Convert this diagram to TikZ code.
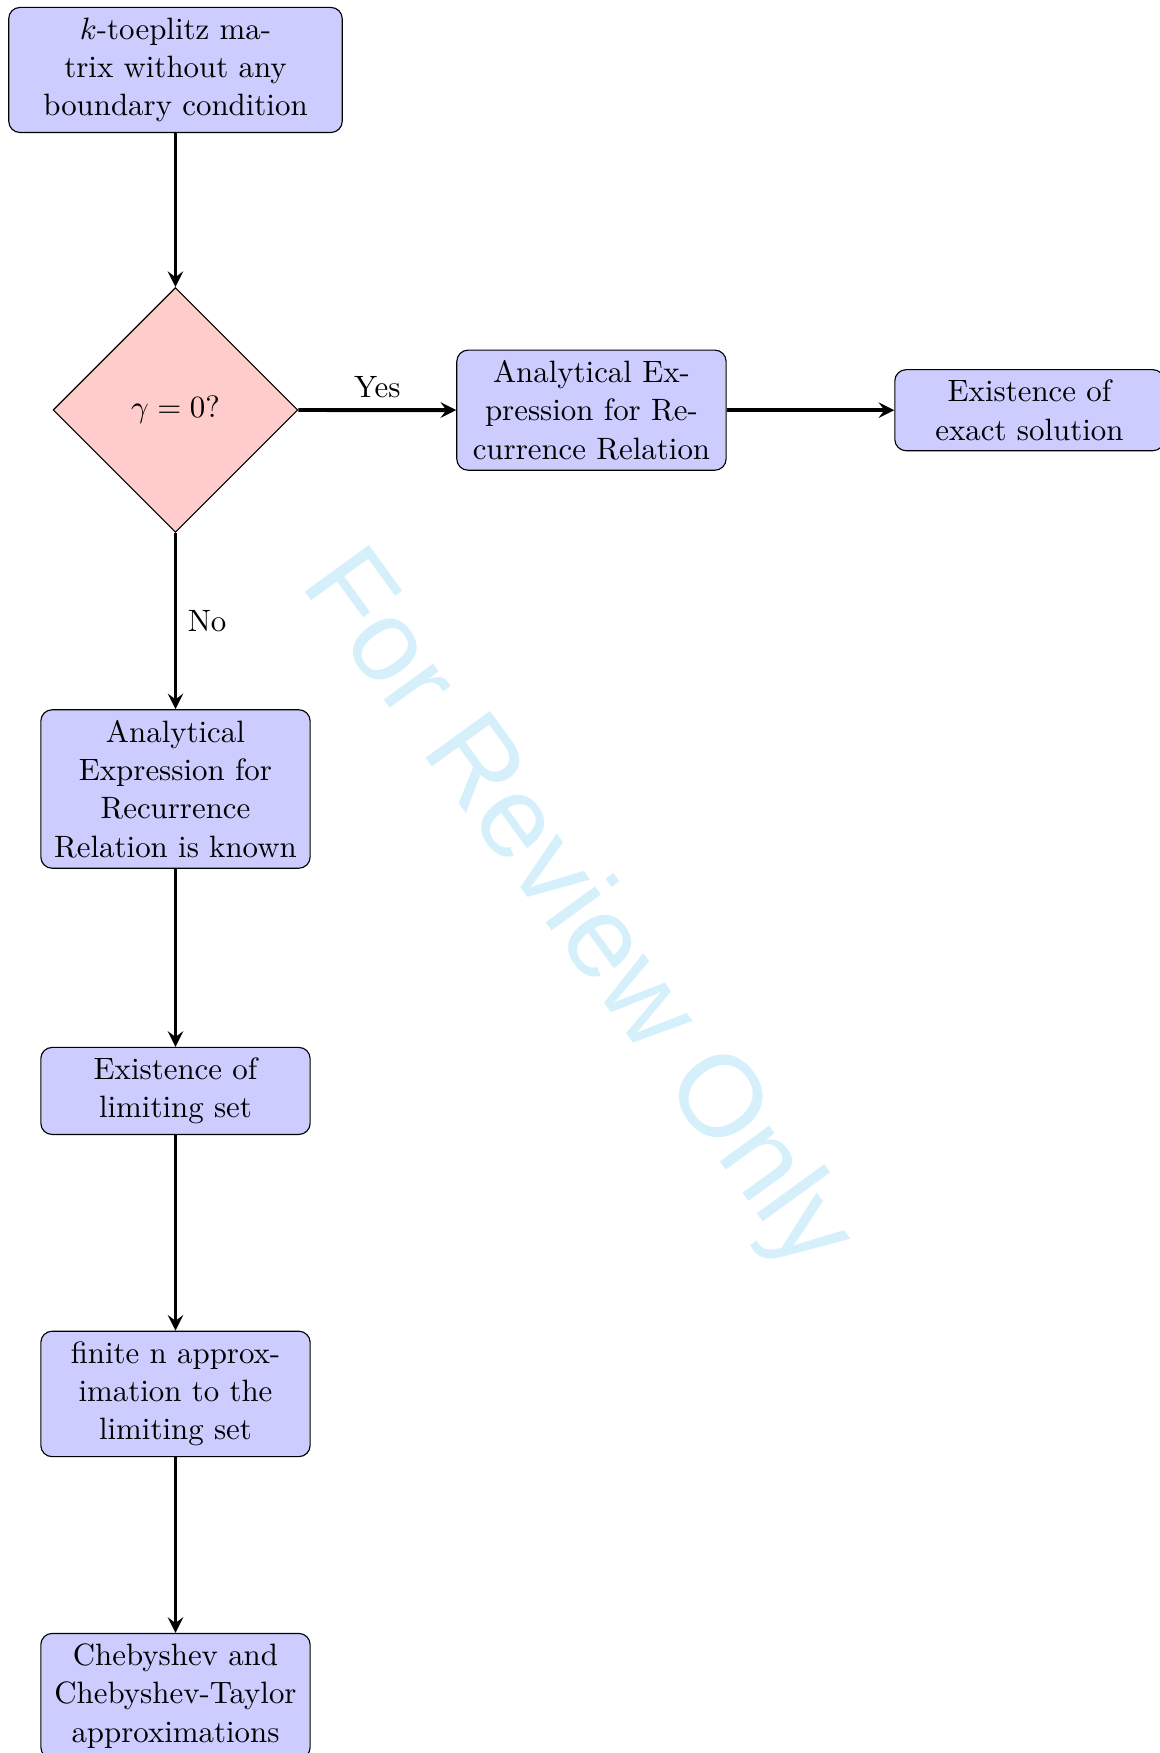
\documentclass[tikz,border=0pt,11pt]{standalone}
\usepackage{amsmath,amssymb}
\usepackage{fontspec}
\newfontfamily\wmfont{Liberation Sans}
\usetikzlibrary{shapes.geometric}
\definecolor{wmcyan}{RGB}{213,240,251}

\begin{document}
\begin{tikzpicture}[
		procbox/.style={rectangle, rounded corners, minimum width=3cm, minimum height=1cm, text centered, text width=3.1cm, draw=black, fill=blue!20},
		decbox/.style={diamond, minimum width=3.05cm, minimum height=3.05cm, text centered, draw=black, fill=red!20},
		flowarrow/.style={line width=1.4pt,-stealth}]
		\useasboundingbox (-2.187,0.872) rectangle (12.257,-20.975);% Fixes the page
		\node[rotate=-54, anchor=base west, inner sep=0pt, text=wmcyan, font=\wmfont\fontsize{41}{41}\selectfont] (Watermark) at (1.544,-6.403) {For Review Only};% Watermark

		\node[procbox, text width=3.9cm] (Matrix)       at (0,0)         {$k$-toeplitz ma-\\trix without any\\boundary condition};
		\node[decbox]                    (GammaTest)    at (0,-4.237)    {$\gamma=0$?};
		\node[procbox]                   (ExprRec)      at (5.184,-4.24) {Analytical Ex-\\pression for Re-\\currence Relation};
		\node[procbox]                   (ExactSol)     at (10.643,-4.24){Existence of\\exact solution};
		\node[procbox]                   (ExprKnown)    at (0,-8.961)    {Analytical\\Expression for\\Recurrence\\Relation is known};
		\node[procbox]                   (LimitSet)     at (0,-12.724)   {Existence of\\limiting set};
		\node[procbox]                   (FiniteApprox) at (0,-16.5)     {finite n approx-\\imation to the\\limiting set};
		\node[procbox]                   (ChebApprox)   at (0,-20.264)   {Chebyshev and\\Chebyshev-Taylor\\approximations};

		\draw [flowarrow] (Matrix) -- (GammaTest);
		\draw [flowarrow] (GammaTest) -- node[above] {Yes} (ExprRec);% Yes branch
		\draw [flowarrow] (ExprRec) -- (ExactSol);
		\draw [flowarrow] (GammaTest) -- node[right] {No} (ExprKnown);% No branch
		\draw [flowarrow] (ExprKnown) -- (LimitSet);
		\draw [flowarrow] (LimitSet) -- (FiniteApprox);
		\draw [flowarrow] (FiniteApprox) -- (ChebApprox);
	  \end{tikzpicture}
\end{document}
